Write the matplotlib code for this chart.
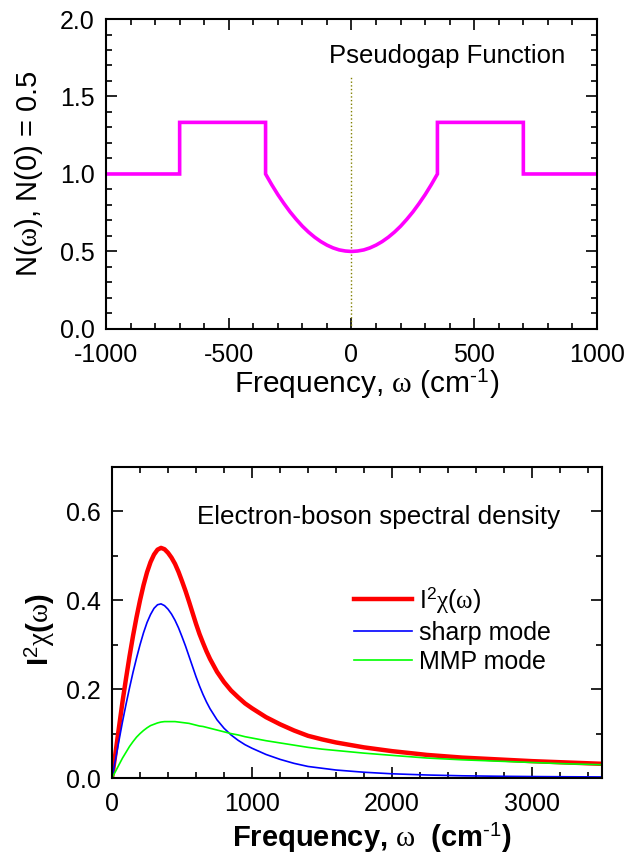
import matplotlib
matplotlib.use("Agg")
import matplotlib.pyplot as plt
from matplotlib.ticker import MultipleLocator, FormatStrFormatter

plt.rcParams['font.family'] = ['Liberation Sans', 'DejaVu Sans']
plt.rcParams['mathtext.fontset'] = 'custom'
plt.rcParams['mathtext.rm'] = 'Liberation Sans'
plt.rcParams['mathtext.it'] = 'Liberation Serif'
plt.rcParams['mathtext.bf'] = 'Liberation Sans:bold'
plt.rcParams['axes.unicode_minus'] = False

# pseudogap function N(w)
pg_freq = [-1000, -700, -700, -350, -350, -325, -300, -275, -250, -225, -200, -175,
           -150, -125, -100, -75, -50, -25, 0, 25, 50, 75, 100, 125, 150, 175, 200,
           225, 250, 275, 300, 325, 350, 350, 700, 700, 1000]
pg_dos = [1.0, 1.0, 1.333, 1.333, 1.0, 0.931, 0.867, 0.809, 0.755, 0.707, 0.663, 0.625,
          0.592, 0.564, 0.541, 0.523, 0.510, 0.503, 0.5, 0.503, 0.510, 0.523, 0.541, 0.564,
          0.592, 0.625, 0.663, 0.707, 0.755, 0.809, 0.867, 0.931, 1.0, 1.333, 1.333, 1.0, 1.0]
pg_marker_top = 1.63

# electron-boson spectral density
eb_freq = [0, 25, 50, 75, 100, 125, 150, 175, 200, 225, 250, 275, 300, 325, 350, 375,
           400, 425, 450, 475, 500, 525, 550, 575, 600, 625, 650, 675, 700, 750, 800,
           850, 900, 950, 1000, 1100, 1200, 1300, 1400, 1500, 1600, 1800, 2000, 2250,
           2500, 2750, 3000, 3250, 3500]
sharp_mode = [0, 0.042, 0.085, 0.127, 0.166, 0.203, 0.238, 0.270, 0.300, 0.327, 0.350,
              0.368, 0.382, 0.390, 0.392, 0.388, 0.380, 0.369, 0.355, 0.338, 0.318,
              0.297, 0.274, 0.251, 0.228, 0.207, 0.188, 0.171, 0.156, 0.131, 0.112,
              0.097, 0.085, 0.075, 0.067, 0.053, 0.042, 0.033, 0.026, 0.022, 0.018,
              0.013, 0.0095, 0.0068, 0.005, 0.004, 0.0033, 0.0028, 0.0024]
mmp_mode = [0, 0.015, 0.030, 0.045, 0.058, 0.071, 0.082, 0.092, 0.100, 0.107, 0.113,
            0.118, 0.121, 0.124, 0.126, 0.127, 0.127, 0.127, 0.127, 0.126, 0.125, 0.124,
            0.123, 0.121, 0.119, 0.117, 0.116, 0.114, 0.112, 0.108, 0.104, 0.100, 0.097,
            0.093, 0.090, 0.084, 0.079, 0.074, 0.069, 0.065, 0.062, 0.056, 0.051, 0.045,
            0.041, 0.038, 0.035, 0.032, 0.030]
total = [0, 0.057, 0.115, 0.172, 0.224, 0.274, 0.320, 0.362, 0.400, 0.434, 0.463, 0.486,
         0.503, 0.514, 0.518, 0.515, 0.507, 0.496, 0.482, 0.464, 0.443, 0.421, 0.397,
         0.372, 0.347, 0.324, 0.304, 0.285, 0.268, 0.239, 0.216, 0.197, 0.182, 0.168,
         0.157, 0.137, 0.121, 0.107, 0.095, 0.087, 0.080, 0.069, 0.0605, 0.052, 0.046,
         0.042, 0.038, 0.035, 0.032]

fig = plt.figure(figsize=(6.42, 8.56), dpi=100)
ax1 = fig.add_axes([0.1651, 0.6157, 0.7648, 0.3621])
ax2 = fig.add_axes([0.1745, 0.0911, 0.7632, 0.3633])


def style_axes(ax):
    for s in ax.spines.values():
        s.set_linewidth(1.5)
    ax.tick_params(which='both', direction='in', top=True, right=True, width=1.2)
    ax.tick_params(which='major', length=8, labelsize=18)
    ax.tick_params(which='minor', length=4.5)
    ax.tick_params(axis='x', pad=10)
    ax.tick_params(axis='y', pad=8)


# top panel
ax1.plot([0, 0], [0, pg_marker_top], color='#808000', lw=1, ls=':')
ax1.plot(pg_freq, pg_dos, color='#ff00ff', lw=2.6, solid_joinstyle='miter')
ax1.set_xlim(-1000, 1000)
ax1.set_ylim(0, 2)
ax1.xaxis.set_major_locator(MultipleLocator(500))
ax1.xaxis.set_minor_locator(MultipleLocator(100))
ax1.yaxis.set_major_locator(MultipleLocator(0.5))
ax1.yaxis.set_minor_locator(MultipleLocator(0.1))
ax1.yaxis.set_major_formatter(FormatStrFormatter('%.1f'))
style_axes(ax1)
ax1.text(389, 1.76, 'Pseudogap Function', fontsize=18.5, ha='center', va='center')
ax1.set_xlabel(r'Frequency, $\omega$ (cm$^{\text{-1}}$)', fontsize=21.5)
ax1.set_ylabel(r'N($\omega$), N(0) = 0.5', fontsize=21)
ax1.xaxis.set_label_coords(0.53, -0.123)
ax1.yaxis.set_label_coords(-0.125, 0.5)

# bottom panel
ax2.plot(eb_freq, total, color='#ff0000', lw=3.2, label=r'I$^{\mathrm{2}}\chi$($\omega$)')
ax2.plot(eb_freq, sharp_mode, color='#0000ff', lw=1.2, label='sharp mode')
ax2.plot(eb_freq, mmp_mode, color='#00ff00', lw=1.2, label='MMP mode')
ax2.set_xlim(0, 3500)
ax2.set_ylim(0, 0.7)
ax2.xaxis.set_major_locator(MultipleLocator(1000))
ax2.xaxis.set_minor_locator(MultipleLocator(200))
ax2.yaxis.set_major_locator(MultipleLocator(0.2))
ax2.yaxis.set_minor_locator(MultipleLocator(0.1))
ax2.yaxis.set_major_formatter(FormatStrFormatter('%.1f'))
style_axes(ax2)
ax2.text(1904, 0.587, 'Electron-boson spectral density', fontsize=18.7,
         ha='center', va='center')
ax2.legend(loc='upper left', bbox_to_anchor=(0.494, 0.62), frameon=False,
           fontsize=18, handlelength=2.3, handletextpad=0.3, labelspacing=0.22,
           borderpad=0, borderaxespad=0)
ax2.set_xlabel(r'Frequency, $\omega$  (cm$^{\text{-1}}$)', fontsize=21,
               fontweight='bold')
ax2.set_ylabel(r'I$^{\mathrm{2}}\chi$($\omega$)', fontsize=21, fontweight='bold')
ax2.xaxis.set_label_coords(0.53, -0.14)
ax2.yaxis.set_label_coords(-0.112, 0.476)

fig.savefig('out.png', dpi=100)
